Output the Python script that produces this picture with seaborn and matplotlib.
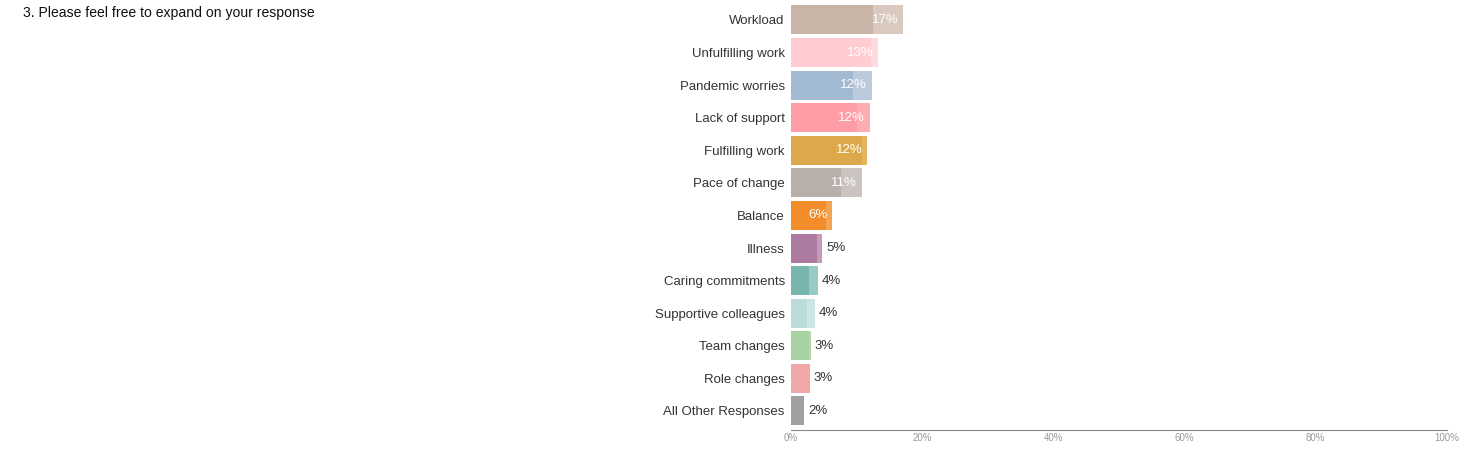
import pandas as pd
import numpy as np
import seaborn as sns
import matplotlib.pyplot as plt
import matplotlib.ticker as mticker

# %% Data
categories = [
    'Workload', 'Unfulfilling work', 'Pandemic worries', 'Lack of support',
    'Fulfilling work', 'Pace of change', 'Balance', 'Illness',
    'Caring commitments', 'Supportive colleagues', 'Team changes',
    'Role changes', 'All Other Responses',
]
share_total = [17.1, 13.3, 12.3, 12.0, 11.6, 10.8, 6.3, 4.8, 4.1, 3.6, 3.0, 2.85, 2.0]
share_inner = [12.5, 12.2, 9.5, 10.1, 10.8, 7.6, 5.4, 3.9, 2.7, 2.4, 2.8, 2.85, 2.0]
value_labels = ['17%', '13%', '12%', '12%', '12%', '11%', '6%', '5%', '4%', '4%', '3%', '3%', '2%']
x_ticks = [0, 20, 40, 60, 80, 100]

colors_dark = ['#c9b5a8', '#ffccd1', '#a2b9d2', '#ff9da6', '#dca84a', '#b8aeaa',
               '#f28c2a', '#ad7aa0', '#77b6ae', '#bcdcdc', '#a8d2a2', '#f0a8a8', '#a0a0a0']
colors_light = ['#d9c9bf', '#ffd9dd', '#bccadd', '#ffadb4', '#e3b65e', '#cbc3c0',
                '#f5a552', '#c49bb8', '#99cac4', '#cde5e4', '#b2d8ac', '#f0a8a8', '#a0a0a0']

df = pd.DataFrame({'category': categories, 'total': share_total, 'inner': share_inner})

# %% Plot
sns.set_style('white')
plt.rcParams['font.family'] = ['Liberation Sans', 'DejaVu Sans']

fig = plt.figure(figsize=(14.68, 4.53), dpi=100)
ax = fig.add_axes([791 / 1468, 0.0497, 656 / 1468, 0.9422])

sns.barplot(data=df, y='category', x='total', hue='category', palette=colors_light,
            legend=False, orient='h', width=0.89, saturation=1, linewidth=0, ax=ax)
sns.barplot(data=df, y='category', x='inner', hue='category', palette=colors_dark,
            legend=False, orient='h', width=0.89, saturation=1, linewidth=0, ax=ax)

# value labels: inside (white) for the longer bars, outside (dark) for short ones
for i, (v, lab) in enumerate(zip(share_total, value_labels)):
    if v > 6:
        ax.annotate(lab, (v, i), xytext=(-3.5, 0), textcoords='offset points',
                    ha='right', va='center', color='white', fontsize=9.5)
    else:
        ax.annotate(lab, (v, i), xytext=(3, 0), textcoords='offset points',
                    ha='left', va='center', color='#333333', fontsize=9.5)

ax.set_xlim(0, 100)
ax.set_ylim(12.6, -0.5)
ax.set_xticks(x_ticks)
ax.xaxis.set_major_formatter(mticker.FuncFormatter(lambda v, p: f'{v:.0f}%'))
ax.tick_params(axis='x', labelsize=7, colors='#999999', length=2, width=0.6, pad=2, direction='in')
ax.tick_params(axis='y', labelsize=9.5, labelcolor='#333333', length=0, pad=4.5)
ax.set_xlabel('')
ax.set_ylabel('')
for side in ['top', 'right', 'left']:
    ax.spines[side].set_visible(False)
ax.spines['bottom'].set_color('#888888')
ax.spines['bottom'].set_linewidth(0.8)

fig.text(23 / 1468, 1 - 13 / 453, '3. Please feel free to expand on your response',
         ha='left', va='center', fontsize=10.1, color='#111111')

fig.savefig('out.png', dpi=100)
